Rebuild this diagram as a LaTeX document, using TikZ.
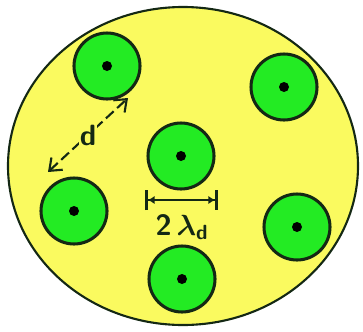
\documentclass[tikz,border=0pt]{standalone}
\usepackage{amsmath,bm}
\usetikzlibrary{arrows.meta}
\definecolor{bgyellow}{RGB}{250,250,95}
\definecolor{grgreen}{RGB}{35,235,35}
\definecolor{edgedark}{RGB}{20,40,20}
\begin{document}
\begin{tikzpicture}[x=0.03cm,y=-0.03cm,
  grain/.style={circle,draw=edgedark,fill=grgreen,line width=2.6pt,minimum size=1.98cm,inner sep=0pt},
  core/.style={circle,fill=black,minimum size=0.3cm,inner sep=0pt},
  lbl/.style={font=\sffamily\bfseries\fontsize{25}{30}\selectfont,text=edgedark}]
\useasboundingbox (0,0) rectangle (363,331);
\fill[white] (0,0) rectangle (363,331);
\draw[edgedark,fill=bgyellow,line width=1.8pt] (183,166) ellipse [x radius=175,y radius=159];
\foreach \n/\x/\y in {c1/107/66, c2/284/87, c3/181/156, c4/74/211, c5/297/227, c6/182/279}{
  \node[grain] (\n) at (\x,\y) {};
  \node[core] (\n k) at (\n) {};
}
% 2 lambda_d
\coordinate (la) at (145,200);
\coordinate (lb) at (218,200);
\draw[edgedark,line width=2.5pt,{Bar[width=0.6cm]Latex[length=0.2cm,width=0.25cm]}-{Latex[length=0.2cm,width=0.25cm]Bar[width=0.6cm]}] (la) -- (lb);
\node[lbl] (lam) at (182,227) {2\,$\bm{\lambda}_{\text{d}}$};
% d
\coordinate (da) at (48,172);
\coordinate (db) at (128,98);
\draw[edgedark,line width=1.8pt,dash pattern=on 9pt off 4pt,{Straight Barb[length=0.32cm,width=0.5cm]}-{Straight Barb[length=0.32cm,width=0.5cm]}] (da) -- node[lbl,fill=bgyellow,inner sep=1pt] (dl) {d} (db);
\end{tikzpicture}
\end{document}
